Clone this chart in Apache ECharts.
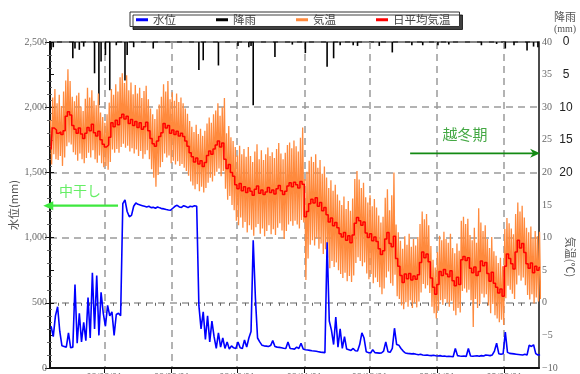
<!DOCTYPE html>
<html>
<head>
<meta charset="utf-8">
<script src="https://cdn.jsdelivr.net/npm/echarts@6/dist/echarts.min.js"></script>
<style>html,body{margin:0;padding:0;background:#fff;}#c{width:580px;height:374px;}</style>
</head>
<body>
<div id="c"></div>
<script>
// Day index 0 = 2008-07-07 ... 225 = 2009-02-17
const monthTicks = [25, 56, 86, 117, 147, 178, 209];
const monthLabels = ['08/08/01', '08/09/01', '08/10/01', '08/11/01', '08/12/01', '09/01/01', '09/02/01'];

// daily mean temperature (°C)
const tempMean = [
23.5,26.8,26.5,26.0,26.2,25.8,26.4,28.6,29.3,28.8,
27.2,26.6,26.0,26.8,25.9,25.2,26.0,26.9,26.4,27.4,
26.1,25.6,26.3,25.0,24.3,23.9,24.2,25.4,27.6,27.0,
28.0,27.3,28.4,28.9,28.2,28.6,27.5,28.1,27.2,27.8,
26.9,27.6,26.6,27.0,27.7,26.4,25.2,24.4,24.0,24.8,
25.5,26.1,27.5,26.8,27.2,26.0,26.5,25.8,26.3,25.6,
26.0,25.5,24.8,24.0,23.0,22.4,21.6,22.2,21.3,21.8,
20.9,21.5,22.6,23.3,22.8,23.6,24.2,24.8,23.9,24.5,
22.0,20.6,21.2,20.0,19.4,18.1,17.5,18.3,17.2,17.8,
16.9,17.6,17.1,16.5,17.4,17.9,16.8,17.3,16.6,17.0,
17.7,16.9,17.3,16.7,17.5,18.0,17.2,16.6,17.1,17.9,
18.4,17.8,18.5,18.1,17.6,18.6,18.2,13.2,14.0,15.2,
15.9,15.3,16.1,14.8,15.4,14.1,14.6,13.5,12.4,13.0,
11.8,12.3,11.5,10.6,10.1,10.8,9.6,10.3,9.2,10.4,
12.2,13.1,12.6,11.9,12.4,10.7,10.0,10.6,9.5,10.1,
9.4,8.3,7.4,8.0,9.8,10.8,9.1,8.6,10.2,6.8,
5.6,4.2,3.1,4.4,3.7,4.5,3.5,4.1,3.6,4.3,
6.2,7.8,6.9,7.5,6.3,3.8,2.4,1.3,2.8,4.8,
4.2,5.1,4.4,4.0,4.9,3.4,2.6,3.9,2.8,6.6,
7.1,6.5,6.9,5.3,4.6,5.5,4.2,4.8,6.4,5.7,
6.2,4.5,3.3,4.7,3.0,2.4,1.5,2.1,1.0,5.6,
7.5,6.8,6.0,5.2,7.8,9.6,8.4,9.1,7.7,6.0,
5.3,6.1,4.6,5.6,5.0,5.4
];
// daily high / low of the (hourly) air temperature (°C)
const tempHigh = [
28.0,31.5,32.8,30.6,31.9,30.2,32.4,34.1,35.8,34.0,
31.6,30.9,31.8,32.2,30.1,29.4,31.3,33.0,31.5,32.6,
31.0,30.3,32.1,29.2,28.5,27.6,28.9,30.7,32.8,31.9,
33.5,32.4,34.6,35.2,33.7,34.9,32.6,33.8,32.0,33.4,
32.1,33.0,31.4,32.5,33.3,31.2,29.8,28.9,28.2,29.7,
30.4,31.6,33.5,32.4,34.0,31.2,32.3,31.0,32.1,30.8,
31.5,30.6,29.8,29.0,27.9,27.0,26.2,27.3,25.9,26.7,
25.6,26.4,27.5,28.4,27.6,28.9,29.5,30.6,28.7,30.0,
31.4,26.0,27.1,25.4,24.8,23.9,22.6,24.1,22.8,23.6,
22.4,23.9,22.5,21.6,23.2,24.3,22.0,23.4,21.9,22.8,
23.8,22.5,23.1,22.2,23.6,24.5,22.9,22.0,23.0,24.2,
24.6,23.7,24.9,24.0,23.2,25.3,26.9,19.0,20.1,21.8,
22.4,21.6,22.8,20.7,21.9,19.8,20.9,19.2,17.6,18.8,
17.2,18.1,16.6,15.7,15.0,16.3,14.4,15.6,14.1,16.0,
19.0,20.2,18.9,17.6,18.4,16.2,15.4,16.5,14.8,15.9,
14.6,13.4,12.3,13.2,16.1,17.4,14.2,16.5,20.0,12.0,
10.8,9.5,8.3,10.2,8.9,10.6,8.6,9.8,8.8,10.1,
12.1,14.0,12.8,13.6,11.9,8.7,6.6,5.4,7.8,10.3,
9.6,10.9,9.8,9.2,10.6,8.4,7.6,9.1,8.0,12.6,
13.2,12.1,12.9,10.4,9.6,11.5,9.2,14.5,12.3,11.0,
11.9,9.8,8.4,10.1,7.9,7.2,6.1,6.9,5.6,11.3,
13.0,12.2,11.4,10.5,13.6,15.4,14.0,14.9,13.1,11.5,
10.8,11.7,9.9,11.0,10.2,10.9
];
const tempLow = [
21.2,22.8,22.0,21.9,22.5,21.0,22.3,24.0,24.6,24.3,
23.1,22.7,21.8,22.9,22.0,21.4,22.2,23.0,22.3,23.4,
22.0,21.5,22.6,21.4,20.8,21.0,20.4,21.6,23.5,23.0,
23.6,23.0,23.9,24.4,23.8,24.1,23.2,23.7,22.9,23.5,
22.5,23.3,22.1,22.8,23.4,22.0,20.5,19.2,17.8,19.6,
20.8,21.6,22.9,22.3,22.6,21.4,21.8,21.2,21.7,21.0,
21.3,20.7,20.2,19.5,18.6,18.0,17.4,18.2,17.1,17.8,
16.9,17.6,18.4,19.2,18.6,19.5,20.1,20.6,19.4,20.2,
17.5,15.8,16.4,15.0,14.2,12.6,11.9,13.1,11.5,12.4,
10.8,11.9,11.2,10.3,11.6,12.1,10.6,11.4,10.2,11.0,
11.9,10.5,11.3,10.4,11.5,12.2,11.1,9.8,11.0,12.0,
12.5,11.8,12.6,12.0,11.4,12.7,12.3,3.5,6.8,8.9,
9.6,8.8,9.9,8.3,9.1,7.5,8.2,6.9,5.3,6.4,
5.5,6.2,5.0,4.4,3.8,4.6,3.3,4.1,3.2,4.2,
6.1,7.0,6.4,5.6,6.2,4.5,3.6,4.4,3.0,3.9,
3.2,2.4,1.3,2.2,3.9,4.8,3.0,2.6,4.3,1.0,
0.6,-0.4,-1.0,0.1,-0.6,0.4,-0.8,0.0,-0.7,0.2,
1.6,2.9,2.2,2.7,1.5,-0.6,-1.6,-2.4,-1.2,0.4,
-0.3,0.6,0.0,-0.6,0.3,-1.2,-1.9,-0.8,-1.5,1.8,
2.2,1.6,2.0,0.4,-3.7,0.6,-0.8,-0.2,1.4,0.8,
1.3,-0.4,-1.6,-0.2,-1.9,-2.4,-3.0,-2.6,-3.4,0.7,
2.6,2.0,1.4,0.6,2.8,4.2,3.4,3.9,2.7,1.2,
0.5,1.3,-0.1,0.8,0.2,0.6
];
// daily water level (mm)
const waterLevel = [
320,240,400,470,280,170,165,160,270,155,
160,640,190,420,200,350,210,540,230,730,
300,710,250,580,420,320,480,400,430,250,
410,420,400,1260,1290,1200,1160,1170,1240,1265,
1255,1250,1245,1240,1235,1240,1230,1232,1225,1235,
1228,1222,1220,1215,1212,1210,1225,1240,1248,1235,
1232,1245,1238,1230,1240,1236,1245,1240,480,300,
430,220,400,200,360,240,150,270,160,230,
150,200,145,170,155,150,200,155,150,215,
160,230,280,980,540,230,200,175,170,168,
165,172,210,165,160,158,155,152,150,200,
150,148,145,160,150,190,145,140,138,135,
132,130,128,125,122,120,118,965,360,290,
180,390,160,300,150,240,145,140,135,150,
132,130,180,270,230,125,118,115,140,118,
116,114,115,130,200,125,120,150,305,180,
175,150,130,115,112,110,108,110,105,102,
105,100,98,100,96,95,98,94,92,95,
90,92,88,90,88,86,150,95,92,90,
92,88,150,92,90,92,94,90,95,92,
100,98,95,100,130,190,110,105,110,275,
120,112,110,108,106,104,102,100,105,100,
175,165,178,110,100,102
];
// rainfall (mm): day index and amount
const rainDay = [0,1,10,11,13,15,20,22,23,25,27,30,34,35,38,47,68,70,77,86,91,92,93,103,111,117,127,130,133,139,141,151,157,166,171,178,183,198,205,209,213,219,222,224];
const rainMm  = [1.2,0.8,2.5,1.0,1.2,0.7,4.8,9.7,3.0,2.0,7.4,0.5,5.9,2.0,0.8,1.0,4.3,2.8,3.6,0.6,0.8,0.6,9.7,2.3,0.4,1.7,3.8,2.5,0.5,0.5,0.6,0.6,1.6,0.5,0.5,0.5,0.4,0.5,0.3,1.0,0.5,1.3,0.7,0.8];

const levelTicks = [0, 500, 1000, 1500, 2000, 2500];
const tempTicks = [-10, -5, 0, 5, 10, 15, 20, 25, 30, 35, 40];
const rainTickLabels = [0, 5, 10, 15, 20];

// annotation anchors in data coordinates [day, water level]
const nakaboshiText = [13.8, 1357];
const nakaboshiArrow = [[31.3, 1245], [-3.1, 1245]];
const ettoText = [191, 1790];
const ettoArrow = [[165.7, 1646], [225.5, 1646]];

const serif = '"Liberation Serif", "DejaVu Serif", serif';
const jp = '"Noto Sans CJK JP", sans-serif';

const minorX = [];
const bounds = [0].concat(monthTicks).concat([225]);
for (let k = 0; k < bounds.length - 1; k++) {
  const a = bounds[k], b = bounds[k + 1];
  const n = Math.max(1, Math.round((b - a) / 3.8));
  for (let j = 1; j < n; j++) minorX.push(a + (b - a) * j / n);
}

const chart = echarts.init(document.getElementById('c'), null, {renderer: 'canvas'});
const gridLine = {show: true, lineStyle: {color: '#9a9a9a', type: [7, 5], width: 1.5}};

const option = {
  animation: false,
  backgroundColor: '#fff',
  grid: {left: 50, right: 41, top: 42, bottom: 6, show: true, borderColor: '#111', borderWidth: 1.5, backgroundColor: 'transparent', containLabel: false, outerBoundsMode: 'none'},
  legend: {
    left: 130, top: 12, width: 340,
    padding: [2, 9, 1, 6],
    itemWidth: 12, itemHeight: 3, itemGap: 40, icon: 'rect',
    borderColor: '#333', borderWidth: 1, backgroundColor: '#fff',
    shadowColor: 'rgba(0,0,0,0.75)', shadowOffsetX: 3, shadowOffsetY: 3, shadowBlur: 0,
    textStyle: {fontFamily: jp, fontSize: 11.5, color: '#444', padding: [0, 0, 0, 0]},
    data: ['水位', '降雨', '気温', '日平均気温']
  },
  xAxis: [{
    type: 'value', min: 0, max: 225,
    axisLine: {show: true, lineStyle: {color: '#111', width: 2}},
    axisTick: {show: true, length: 5, inside: false, customValues: monthTicks, lineStyle: {color: '#111'}},
    axisLabel: {show: true, customValues: monthTicks, margin: 4, fontFamily: serif, fontSize: 10, color: '#666',
      formatter: v => monthLabels[monthTicks.indexOf(v)] || ''},
    splitLine: gridLine
  }, {
    type: 'value', min: 0, max: 225, position: 'bottom',
    axisLine: {show: false},
    axisTick: {show: true, length: 3, customValues: minorX, lineStyle: {color: '#666'}},
    axisLabel: {show: false},
    splitLine: {show: false}
  }],
  yAxis: [{
    type: 'value', min: 0, max: 2500, interval: 500, position: 'left',
    name: '水位(mm)', nameLocation: 'middle', nameGap: 31, nameMoveOverlap: false,
    nameTextStyle: {fontFamily: jp, fontSize: 11, color: '#555'},
    axisLine: {show: true, lineStyle: {color: '#111', width: 2}},
    axisTick: {show: true, length: 5, lineStyle: {color: '#111'}},
    minorTick: {show: true, splitNumber: 5, length: 3, lineStyle: {color: '#666'}},
    axisLabel: {fontFamily: serif, fontSize: 10, color: '#666', margin: 3,
      formatter: v => levelTicks.includes(v) ? v.toLocaleString('en-US') : ''},
    splitLine: gridLine
  }, {
    type: 'value', min: -10, max: 40, interval: 5, position: 'right',
    axisLine: {show: true, lineStyle: {color: '#111', width: 2}},
    axisTick: {show: true, length: 4, lineStyle: {color: '#111'}},
    minorTick: {show: true, splitNumber: 5, length: 2, lineStyle: {color: '#666'}},
    axisLabel: {fontFamily: serif, fontSize: 10, color: '#666', margin: 3,
      formatter: v => tempTicks.includes(v) ? String(v).replace('-', '−') : ''},
    splitLine: {show: false}
  }, {
    type: 'value', min: 0, max: 50, interval: 5, inverse: true, position: 'right',
    axisLine: {show: false}, axisTick: {show: false}, splitLine: {show: false},
    axisLabel: {fontFamily: '"Liberation Sans", Arial, sans-serif', fontSize: 12, color: '#222', margin: 27, align: 'center',
      formatter: v => rainTickLabels.includes(v) ? String(v) : ''}
  }],
  series: [
    {
      name: '降雨', type: 'bar', xAxisIndex: 0, yAxisIndex: 2, barWidth: 1.6, barGap: '-100%',
      itemStyle: {color: '#000'}, z: 1,
      data: rainDay.map((d, i) => [d + 0.5, rainMm[i]])
    },
    {
      name: '気温', type: 'line', xAxisIndex: 0, yAxisIndex: 1, showSymbol: false, z: 2,
      lineStyle: {color: '#ff8a3d', width: 1.3}, itemStyle: {color: '#ff8a3d'},
      data: tempHigh.flatMap((h, i) => [[i + 0.25, h], [i + 0.75, tempLow[i]]])
    },
    {
      name: '日平均気温', type: 'line', xAxisIndex: 0, yAxisIndex: 1, showSymbol: false, step: 'middle', z: 3,
      lineStyle: {color: '#ff0000', width: 1.5}, itemStyle: {color: '#ff0000'},
      data: tempMean.map((v, i) => [i + 0.5, v])
    },
    {
      name: '水位', type: 'line', xAxisIndex: 0, yAxisIndex: 0, showSymbol: false, z: 4,
      lineStyle: {color: '#0000ff', width: 1.6}, itemStyle: {color: '#0000ff'},
      data: waterLevel.map((v, i) => [i + 0.5, v])
    }
  ]
};
chart.setOption(option);

// annotations positioned from data coordinates
const px = p => chart.convertToPixel({xAxisIndex: 0, yAxisIndex: 0}, p);
const nA = nakaboshiArrow.map(px), eA = ettoArrow.map(px);
const nT = px(nakaboshiText), eT = px(ettoText);
const lime = '#3ee83e', dark = '#138a13';
chart.setOption({
  graphic: [
    {type: 'line', shape: {x1: nA[0][0], y1: nA[0][1], x2: nA[1][0] + 6, y2: nA[1][1]}, style: {stroke: lime, lineWidth: 2.2}, z: 100},
    {type: 'polygon', shape: {points: [[nA[1][0], nA[1][1]], [nA[1][0] + 10, nA[1][1] - 4.5], [nA[1][0] + 10, nA[1][1] + 4.5]]}, style: {fill: lime}, z: 100},
    {type: 'text', x: nT[0], y: nT[1], style: {text: '中干し', fill: '#66ee66', font: '14px ' + jp, textAlign: 'center', textVerticalAlign: 'middle'}, z: 100},
    {type: 'line', shape: {x1: eA[0][0], y1: eA[0][1], x2: eA[1][0] - 6, y2: eA[1][1]}, style: {stroke: dark, lineWidth: 1.6}, z: 100},
    {type: 'polygon', shape: {points: [[eA[1][0], eA[1][1]], [eA[1][0] - 10, eA[1][1] - 4.5], [eA[1][0] - 7, eA[1][1]], [eA[1][0] - 10, eA[1][1] + 4.5]]}, style: {fill: dark}, z: 100},
    {type: 'text', x: eT[0], y: eT[1], style: {text: '越冬期', fill: '#44a844', font: '15px ' + jp, textAlign: 'center', textVerticalAlign: 'middle'}, z: 100},
    {type: 'text', x: 565, y: 17, style: {text: '降雨', fill: '#555', font: '11px ' + jp, textAlign: 'center', textVerticalAlign: 'middle'}},
    {type: 'text', x: 565, y: 29, style: {text: '(mm)', fill: '#555', font: '10px ' + serif, textAlign: 'center', textVerticalAlign: 'middle'}},
    {type: 'text', x: 570, y: 257, rotation: -Math.PI / 2, style: {text: '気温(℃)', fill: '#555', font: '11px ' + jp, textAlign: 'center', textVerticalAlign: 'middle'}}
  ]
});
</script>
</body>
</html>
